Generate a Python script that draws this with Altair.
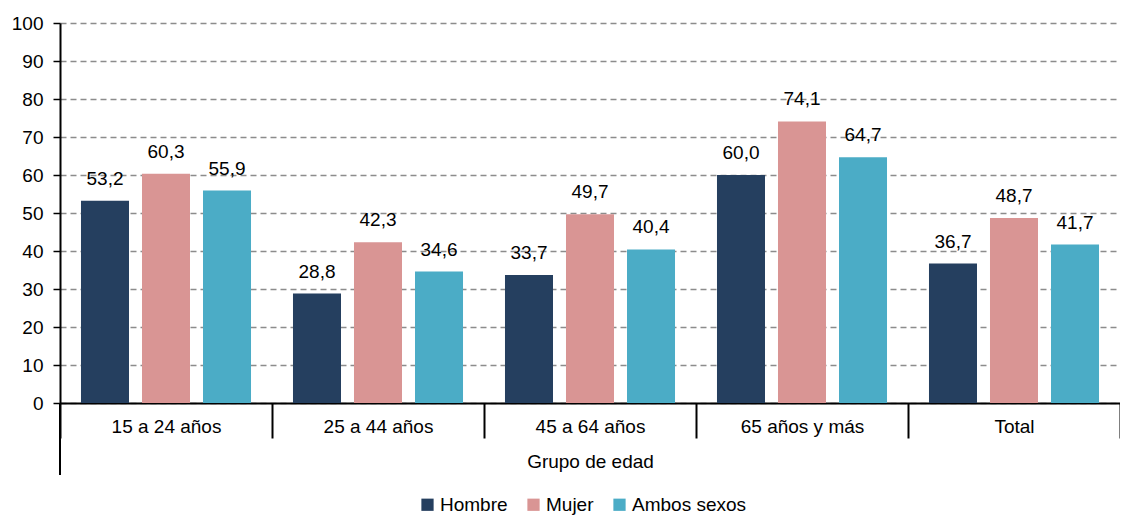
import altair as alt
import pandas as pd

categorias = ["15 a 24 años", "25 a 44 años", "45 a 64 años", "65 años y más", "Total"]
sexos = ["Hombre", "Mujer", "Ambos sexos"]
hombre = [53.2, 28.8, 33.7, 60.0, 36.7]
mujer = [60.3, 42.3, 49.7, 74.1, 48.7]
ambos = [55.9, 34.6, 40.4, 64.7, 41.7]
colores = ["#253F5F", "#D99594", "#4BACC6"]

rows = []
for serie, nombre in zip([hombre, mujer, ambos], sexos):
    for cat, v in zip(categorias, serie):
        rows.append({"grupo": cat, "sexo": nombre, "valor": v})
df = pd.DataFrame(rows)

FONT = "Liberation Sans"

base = alt.Chart(df).transform_calculate(
    etiqueta="replace(format(datum.valor, '.1f'), '.', ',')"
)

x_enc = alt.X(
    "grupo:N",
    sort=categorias,
    title="Grupo de edad",
    scale=alt.Scale(paddingInner=0, paddingOuter=0),
    axis=alt.Axis(
        labelAngle=0,
        domainColor="black",
        domainWidth=2,
        tickBand="extent",
        tickColor="black",
        tickWidth=2,
        tickSize=35,
        labelPadding=-21,
        labelFontSize=19,
        labelColor="black",
        labelFont=FONT,
        titleFont=FONT,
        titleFontSize=19,
        titleFontWeight="normal",
        titleColor="black",
        titlePadding=13,
        grid=False,
    ),
)
xoff_enc = alt.XOffset(
    "sexo:N", sort=sexos, scale=alt.Scale(paddingInner=0.213, paddingOuter=0.344)
)
y_enc = alt.Y(
    "valor:Q",
    scale=alt.Scale(domain=[0, 100]),
    axis=alt.Axis(
        values=list(range(0, 101, 10)),
        title=None,
        domainColor="black",
        domainWidth=2,
        tickColor="black",
        tickSize=7,
        tickWidth=1.5,
        labelPadding=10,
        labelFontSize=19,
        labelColor="black",
        labelFont=FONT,
        grid=True,
        gridDash=[6, 4],
        gridColor="#8c8c8c",
        gridWidth=1.5,
    ),
)

bars = base.mark_bar().encode(
    x=x_enc,
    xOffset=xoff_enc,
    y=y_enc,
    color=alt.Color(
        "sexo:N",
        sort=sexos,
        scale=alt.Scale(domain=sexos, range=colores),
        legend=alt.Legend(
            title=None,
            orient="none",
            legendX=358,
            legendY=472,
            direction="horizontal",
            symbolType="square",
            symbolSize=150,
            symbolStrokeWidth=0,
            labelFontSize=19,
            labelFont=FONT,
            labelColor="black",
            columnPadding=16,
            labelOffset=3,
        ),
    ),
)

text = base.mark_text(
    baseline="bottom", dy=-12, fontSize=19, font=FONT, color="black"
).encode(x=x_enc, xOffset=xoff_enc, y=y_enc, text="etiqueta:N")

ext = alt.Chart(df).mark_rule(color="black", strokeWidth=2).encode(
    x=alt.value(0), y=alt.value(380), y2=alt.value(452)
)

chart = (
    alt.layer(bars, text, ext)
    .properties(
        width=1060,
        height=380,
        padding={"left": 52, "top": 15, "right": 0, "bottom": 114},
        autosize="none",
    )
    .configure_view(stroke=None)
)

chart.save("out.html", embed_options={"renderer": "svg", "actions": False})
